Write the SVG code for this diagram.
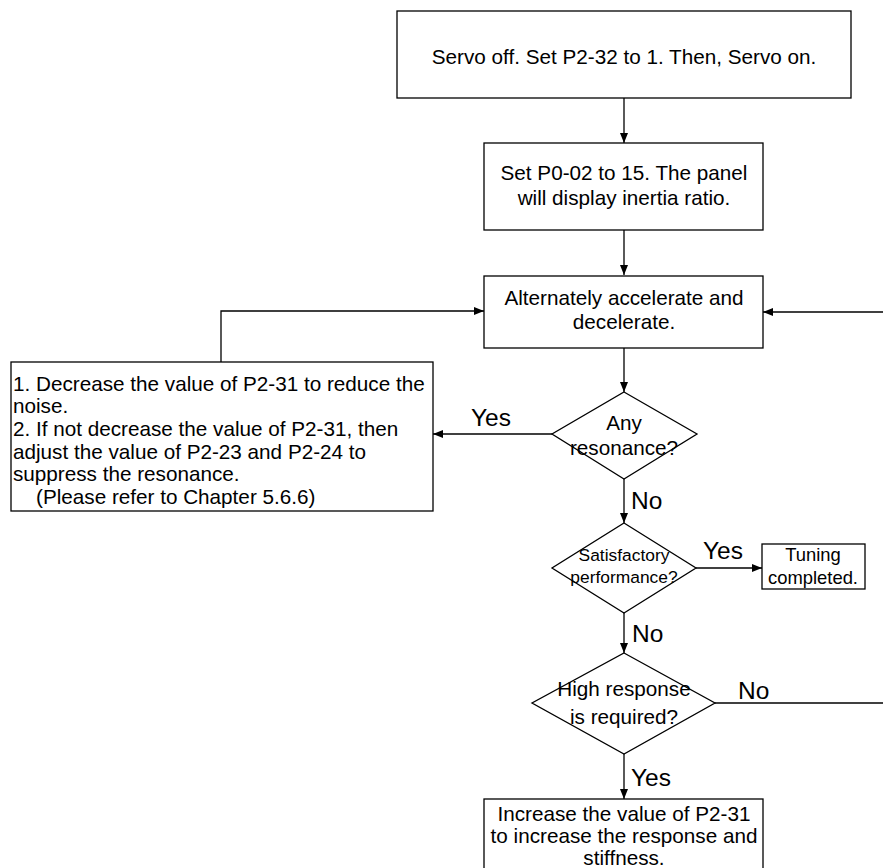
<svg xmlns="http://www.w3.org/2000/svg" width="883" height="868" viewBox="0 0 883 868">
<defs>
<style>
.box{fill:#fff;stroke:#000;stroke-width:1.3}
.t{font-family:"Liberation Sans",Arial,sans-serif;font-size:20.7px;fill:#000}
.c{text-anchor:middle}
.s{font-size:17.4px}
.s2{font-size:18.4px}
.lbl{font-family:"Liberation Sans",Arial,sans-serif;font-size:24.5px;fill:#000}
.ln{fill:none;stroke:#000;stroke-width:1.3}
</style>
<marker id="ah" markerWidth="10" markerHeight="8" refX="10" refY="4" orient="auto" markerUnits="userSpaceOnUse">
<path d="M0,0 L10,4 L0,8 Z" fill="#000"/>
</marker>
</defs>
<rect width="883" height="868" fill="#fff"/>
<g id="connectors">
<line class="ln" x1="624" y1="98" x2="624" y2="143" marker-end="url(#ah)"/>
<line class="ln" x1="624" y1="230" x2="624" y2="275" marker-end="url(#ah)"/>
<line class="ln" x1="624" y1="348" x2="624" y2="392" marker-end="url(#ah)"/>
<line class="ln" x1="552" y1="434" x2="433" y2="434" marker-end="url(#ah)"/>
<polyline class="ln" points="221,362 221,311 484,311" marker-end="url(#ah)"/>
<line class="ln" x1="624" y1="479" x2="624" y2="523" marker-end="url(#ah)"/>
<line class="ln" x1="696" y1="568" x2="762" y2="568" marker-end="url(#ah)"/>
<line class="ln" x1="624" y1="613" x2="624" y2="653" marker-end="url(#ah)"/>
<line class="ln" x1="715" y1="703" x2="883" y2="703"/>
<line class="ln" x1="883" y1="312" x2="763" y2="312" marker-end="url(#ah)"/>
<line class="ln" x1="624" y1="754" x2="624" y2="799" marker-end="url(#ah)"/>
<text class="lbl" x="471" y="426">Yes</text>
<text class="lbl" x="631" y="509">No</text>
<text class="lbl" x="703" y="559">Yes</text>
<text class="lbl" x="632" y="642">No</text>
<text class="lbl" x="738" y="699">No</text>
<text class="lbl" x="631" y="786">Yes</text>
</g>
<g id="n1">
<rect class="box" x="397" y="11" width="454" height="87"/>
<text class="t c" x="624" y="64">Servo off. Set P2-32 to 1. Then, Servo on.</text>
</g>
<g id="n2">
<rect class="box" x="484" y="143" width="279" height="87"/>
<text class="t c" x="624" y="180">Set P0-02 to 15. The panel</text>
<text class="t c" x="624" y="205">will display inertia ratio.</text>
</g>
<g id="n3">
<rect class="box" x="484" y="276" width="279" height="72"/>
<text class="t c" x="624" y="305">Alternately accelerate and</text>
<text class="t c" x="624" y="329">decelerate.</text>
</g>
<g id="n4">
<rect class="box" x="11" y="362" width="422" height="149"/>
<text class="t" x="13" y="391">1. Decrease the value of P2-31 to reduce the</text>
<text class="t" x="13" y="413">noise.</text>
<text class="t" x="13" y="436">2. If not decrease the value of P2-31, then</text>
<text class="t" x="13" y="459">adjust the value of P2-23 and P2-24 to</text>
<text class="t" x="13" y="481">suppress the resonance.</text>
<text class="t" x="13" y="504" xml:space="preserve">    (Please refer to Chapter 5.6.6)</text>
</g>
<g id="d1">
<polygon class="box" points="624,392 697,434 624,479 552,434"/>
<text class="t c" x="624" y="430">Any</text>
<text class="t c" x="624" y="455">resonance?</text>
</g>
<g id="d2">
<polygon class="box" points="624,523 696,568 624,613 552,568"/>
<text class="t c s" x="624" y="561">Satisfactory</text>
<text class="t c s" x="624" y="583">performance?</text>
</g>
<g id="n5">
<rect class="box" x="762" y="544" width="103" height="45"/>
<text class="t c s2" x="813" y="561">Tuning</text>
<text class="t c s2" x="813" y="584">completed.</text>
</g>
<g id="d3">
<polygon class="box" points="624,653 715,703 624,754 532,703"/>
<text class="t c" x="624" y="696">High response</text>
<text class="t c" x="624" y="724">is required?</text>
</g>
<g id="n6">
<rect class="box" x="484" y="799" width="279" height="75"/>
<text class="t c" x="624" y="821">Increase the value of P2-31</text>
<text class="t c" x="624" y="843">to increase the response and</text>
<text class="t c" x="624" y="865">stiffness.</text>
</g>
</svg>
